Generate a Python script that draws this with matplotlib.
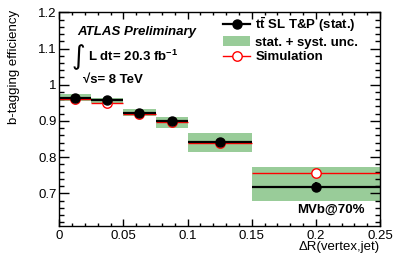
import matplotlib
matplotlib.use("Agg")
import matplotlib.pyplot as plt
from matplotlib.lines import Line2D
from matplotlib.patches import Patch
from matplotlib.ticker import MultipleLocator
import numpy as np

plt.rcParams['font.family'] = ['Liberation Sans', 'DejaVu Sans']
plt.rcParams['mathtext.fontset'] = 'custom'
plt.rcParams['mathtext.rm'] = 'Liberation Sans:bold'
plt.rcParams['mathtext.bf'] = 'Liberation Sans:bold'
plt.rcParams['mathtext.it'] = 'Liberation Sans:bold'
plt.rcParams['mathtext.default'] = 'bf'

# Data
bin_edges = [0.0, 0.025, 0.05, 0.075, 0.1, 0.15, 0.25]
data_eff = [0.964, 0.957, 0.922, 0.901, 0.841, 0.718]
data_stat = [0.003, 0.003, 0.003, 0.004, 0.005, 0.014]
band_low = [0.954, 0.950, 0.913, 0.881, 0.813, 0.679]
band_high = [0.973, 0.964, 0.934, 0.911, 0.866, 0.774]
sim_eff = [0.960, 0.950, 0.918, 0.896, 0.839, 0.756]

edges = np.array(bin_edges)
centers = 0.5 * (edges[:-1] + edges[1:])
halfw = 0.5 * (edges[1:] - edges[:-1])

W, H = 394, 263
fig = plt.figure(figsize=(W / 100, H / 100), dpi=100)
ax = fig.add_axes([59.3 / W, 1 - 226.3 / H, (380 - 59.3) / W, (226.3 - 12.3) / H])

green = '#99cc99'
ax.bar(centers, np.array(band_high) - np.array(band_low), bottom=band_low,
       width=2 * halfw, color=green, linewidth=0, zorder=1)
ax.errorbar(centers, sim_eff, xerr=halfw, fmt='o', color='red', mfc='white',
            mec='red', ms=6.8, mew=1.0, elinewidth=1.0, capsize=0, zorder=2)
ax.errorbar(centers, data_eff, xerr=halfw, yerr=data_stat, fmt='o', color='black',
            ms=6.5, elinewidth=1.6, capsize=0, zorder=3)

ax.set_xlim(0, 0.25)
ax.set_ylim(0.609, 1.2)
ax.xaxis.set_minor_locator(MultipleLocator(0.01))
ax.yaxis.set_minor_locator(MultipleLocator(0.02))
ax.set_xticks([0, 0.05, 0.1, 0.15, 0.2, 0.25])
ax.set_xticklabels(['0', '0.05', '0.1', '0.15', '0.2', '0.25'])
ax.set_yticks([0.7, 0.8, 0.9, 1.0, 1.1, 1.2])
ax.set_yticklabels(['0.7', '0.8', '0.9', '1', '1.1', '1.2'])
ax.tick_params(axis='both', which='both', direction='in', top=True, right=True,
               labelsize=9.5, colors='black', width=1.0)
ax.tick_params(axis='x', which='major', length=5, pad=3)
ax.tick_params(axis='x', which='minor', length=2.5)
ax.tick_params(axis='y', which='major', length=7, pad=2)
ax.tick_params(axis='y', which='minor', length=3.5)
for s in ax.spines.values():
    s.set_linewidth(1.0)

# Axis labels
fig.text(380 / W, 1 - 247 / H, 'ΔR(vertex,jet)', ha='right', va='center', fontsize=9.5)
fig.text(14 / W, 1 - 10 / H, 'b-tagging efficiency', ha='center', va='top',
         rotation=90, fontsize=9.5)

# Annotations
fig.text(77 / W, 1 - 31.7 / H, 'ATLAS Preliminary', ha='left', va='center',
         fontsize=9.5, fontweight='bold', fontstyle='italic')
fig.text(78 / W, 1 - 57.5 / H, '∫', ha='center', va='center', fontsize=19,
         family='DejaVu Sans')
fig.text(88 / W, 1 - 56.7 / H, r'L dt= 20.3 fb$^{-1}$', ha='left', va='center',
         fontsize=9.5, fontweight='bold')
fig.text(83 / W, 1 - 80 / H, '√s= 8 TeV', ha='left', va='center',
         fontsize=9.5, fontweight='bold')
fig.text(365 / W, 1 - 210 / H, 'MVb@70%', ha='right', va='center',
         fontsize=9.5, fontweight='bold')

handles = [
    Line2D([], [], color='black', marker='o', ms=6.5, lw=1.6),
    Patch(facecolor=green, edgecolor='none'),
    Line2D([], [], color='red', marker='o', ms=6.8, mfc='white', mec='red', lw=1.0),
]
labels = [r'$t\bar{t}$ SL T&P (stat.)', 'stat. + syst. unc.', 'Simulation']
leg = fig.legend(handles, labels, loc='upper left', bbox_to_anchor=(223 / W, 1 - 15 / H),
                 frameon=False, handlelength=2.05, handletextpad=0.4,
                 labelspacing=0.15, borderpad=0, borderaxespad=0, handleheight=0.85,
                 prop={'weight': 'bold', 'size': 9.5})

fig.savefig('out.png', dpi=100)
